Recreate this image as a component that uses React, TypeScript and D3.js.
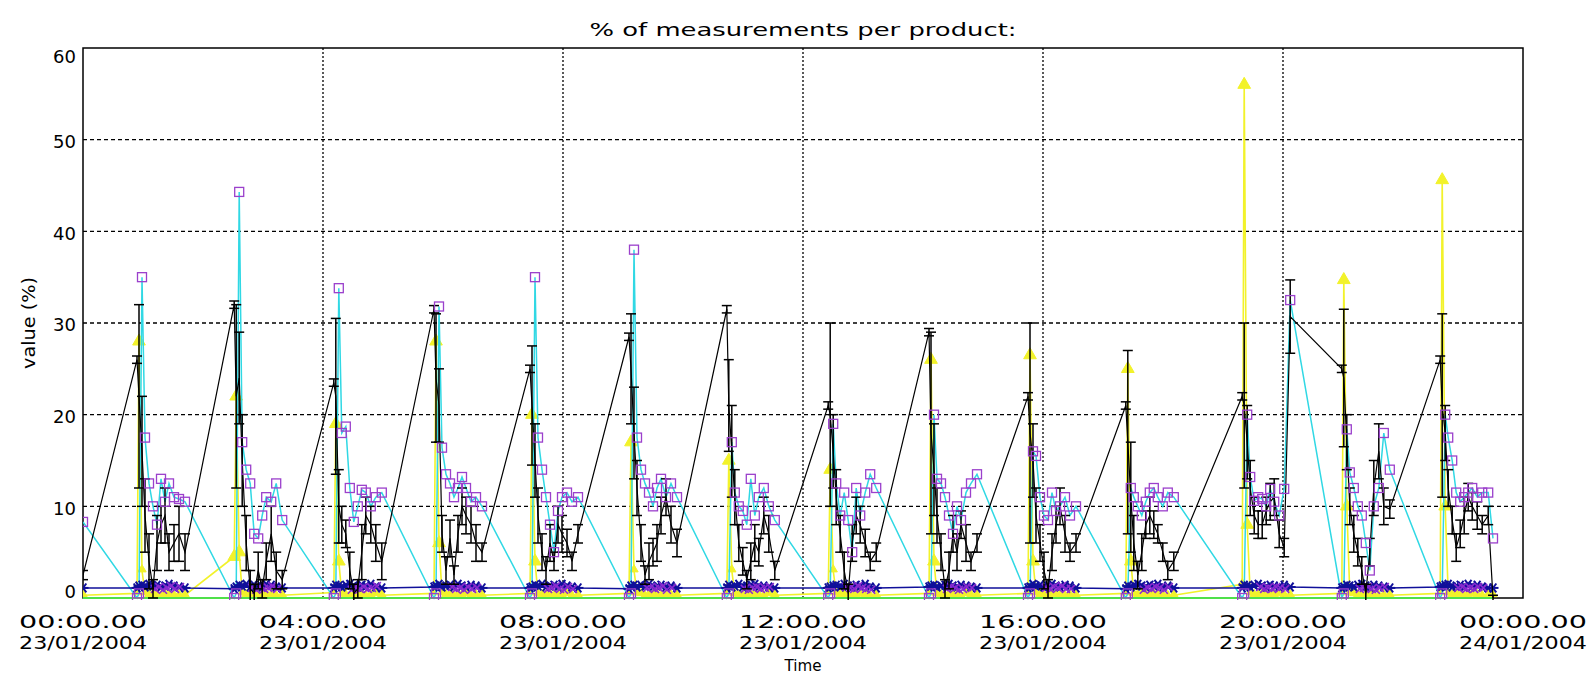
import React from "react"
import * as d3 from "d3"

const WIDTH = 1594
const HEIGHT = 679

// hours after 23/01/2004 00:00 of the first sample of each burst
const BURST_START_HOURS = [
  0.9, 2.52, 4.18, 5.85, 7.45, 9.1, 10.73, 12.42, 14.1, 15.75, 17.38, 19.32,
  20.98, 22.62,
]
// minutes after burst start of every sample in a burst
const SAMPLE_OFFSETS_MIN = [0, 2, 5, 8, 12, 16, 20, 24, 28, 32, 37, 42, 48]

const BLACK_VALUES = [
  [26, 22, 16, 9, 4, 1, 6, 8, 9, 5, 6, 7, 5],
  [32, 22, 24, 15, 6, 1, 0.5, 3, 1, 4, 7, 3, 2],
  [23.5, 22, 10, 8, 7, 3, 0.5, 1, 5, 9, 8, 6, 4],
  [31.5, 24, 21, 7, 3, 6.5, 2.5, 7, 10, 9, 8, 6, 5],
  [25, 21, 15, 9, 5, 3, 6, 4, 8, 7, 6, 4, 7],
  [28.5, 25, 18, 12, 6, 2.5, 4, 5, 6, 9, 11, 8, 6],
  [31.5, 21, 16, 11, 6, 4, 2, 4, 6, 5, 9, 7, 3],
  [21, 20, 16, 11, 7, 3, 0.5, 6, 9, 8, 6, 4, 5],
  [29, 18, 14, 9, 5, 1, 3, 7, 5, 8, 6, 4, 6],
  [22, 18, 15, 9, 6, 3, 1, 5, 8, 10, 7, 5, 6],
  [21, 17, 11, 6, 2.5, 5, 8, 9, 8, 7, 5, 3, 4],
  [22, 21, 17, 12, 9, 8, 8, 9.5, 10.5, 11, 7, 5.5, 30.7],
  [25, 24, 17, 10, 7, 5, 3, 0.5, 5, 12, 16, 10, 9.7],
  [26, 21, 18, 12, 8.5, 5.5, 7, 9, 11, 10, 9, 8, 9],
]
const BLACK_ERRORS = [
  [0.4, 10, 6, 4, 3, 1, 3, 2, 3, 2, 2, 3, 2],
  [0.4, 10, 5, 5, 3, 2, 1, 2, 1, 2, 3, 2, 1],
  [0.4, 8.5, 4, 2, 1.5, 2, 1, 1, 3, 2, 2, 2, 2],
  [0.4, 7, 4, 2, 1.5, 2, 1, 2, 2, 2, 2, 2, 1],
  [0.4, 6.5, 4, 3, 2, 1.5, 2, 1, 2, 2, 1.5, 1, 1],
  [0.4, 6, 5, 3, 2, 1, 2, 1.5, 2, 2, 2, 2, 1.5],
  [0.4, 5, 5, 3, 2, 1.5, 1, 2, 2, 1.5, 2, 2, 1],
  [0.4, 10, 4, 3, 2, 2, 1, 2, 2, 2, 1.5, 1, 1],
  [0.4, 11, 5, 3, 2, 1, 2, 2, 2, 1.5, 2, 1, 1],
  [0.4, 12, 4, 3, 2, 2, 1, 2, 2, 2, 2, 1, 1],
  [0.4, 10, 6, 3, 1.5, 2, 1.5, 2, 1.5, 1, 1, 1, 1],
  [0.4, 9, 4, 3, 2, 1.5, 1.5, 1.5, 2, 2, 1.5, 1, 4],
  [0.4, 7.5, 3, 2, 2, 1.5, 1.5, 1, 1.5, 3, 3, 2, 1],
  [0.4, 10, 3, 2, 1.5, 1.5, 1.5, 2, 1.5, 1.5, 1.5, 1, 1],
]
const CYAN_VALUES = [
  [0, 0.5, 35, 17.5, 12.5, 10, 8, 13, 10.5, 12.5, 11, 10.8, 10.5],
  [0, 0.5, 44.3, 17, 14, 12.5, 7, 6.5, 9, 11, 10.5, 12.5, 8.5],
  [0, 0.5, 33.8, 18, 18.7, 12, 8.3, 10, 11.8, 11.5, 10, 11, 11.5],
  [0, 0.5, 31.8, 16.4, 13.5, 12.5, 11, 12, 13.2, 12, 10.5, 11, 10],
  [0, 0.5, 35, 17.5, 14, 11, 8, 5, 9.5, 11, 11.5, 10.5, 11],
  [0, 0.5, 38, 17.5, 14, 12.5, 11.5, 10, 12, 13, 11, 12.5, 11],
  [0, 0.5, 17, 11.5, 10, 9.5, 8, 13, 9, 11, 12, 10, 8.5],
  [0, 0.5, 19, 12.5, 9, 11.5, 8.5, 5, 12, 9, 11.5, 13.5, 12],
  [0, 0.5, 20, 13, 12.5, 11, 9, 7, 10, 8.5, 11.5, 12.5, 13.5],
  [0, 0.5, 16, 15.5, 11, 9, 8.5, 11.5, 9.5, 10, 11, 9, 10],
  [0, 0.5, 12, 11, 10, 9, 10.5, 11.5, 12, 11, 10, 11.5, 11],
  [0, 0.5, 20, 13.2, 10.6, 11, 10.8, 10, 11.9, 10.5, 9, 11.9, 32.5],
  [0, 0.5, 18.4, 13.7, 12, 10, 9, 6, 3, 10, 12, 18, 14],
  [0, 0.5, 20, 17.5, 15, 11.5, 10.5, 11, 11.5, 12, 11, 11.5, 11.5],
]
const YELLOW_VALUES = [
  [0.5, 28, 3, 0.5, 0.3, 0.4, 0.3, 0.2, 0.4, 0.3, 0.2, 0.3, 0.3],
  [4.5, 22, 5, 0.5, 0.3, 0.3, 0.4, 0.2, 0.3, 0.4, 0.3, 0.2, 0.3],
  [0.6, 19, 4, 0.4, 0.3, 0.2, 0.3, 0.4, 0.3, 0.2, 0.3, 0.4, 0.3],
  [0.5, 28, 6, 0.5, 0.3, 0.4, 0.2, 0.3, 0.3, 0.4, 0.2, 0.3, 0.3],
  [0.5, 20, 4, 0.4, 0.3, 0.3, 0.4, 0.2, 0.3, 0.3, 0.4, 0.2, 0.3],
  [0.5, 17, 3, 0.5, 0.4, 0.2, 0.3, 0.3, 0.4, 0.2, 0.3, 0.3, 0.3],
  [0.5, 15, 3, 0.4, 0.3, 0.3, 0.2, 0.4, 0.3, 0.3, 0.2, 0.4, 0.3],
  [0.5, 14, 3, 0.5, 0.3, 0.4, 0.3, 0.2, 0.3, 0.4, 0.3, 0.2, 0.3],
  [0.5, 26, 4, 0.4, 0.3, 0.2, 0.4, 0.3, 0.3, 0.2, 0.4, 0.3, 0.3],
  [0.5, 26.5, 4, 0.5, 0.3, 0.3, 0.2, 0.4, 0.3, 0.3, 0.2, 0.3, 0.3],
  [0.5, 25, 4, 0.4, 0.3, 0.4, 0.3, 0.2, 0.4, 0.3, 0.3, 0.2, 0.3],
  [1.5, 56, 8, 0.5, 0.3, 0.3, 0.4, 0.3, 0.2, 0.3, 0.4, 0.3, 0.3],
  [0.5, 34.7, 10, 0.5, 0.4, 0.3, 0.2, 0.3, 0.4, 0.3, 0.2, 0.3, 0.3],
  [0.5, 45.6, 10, 0.5, 0.3, 0.4, 0.3, 0.2, 0.3, 0.4, 0.3, 0.2, 0.3],
]
const NAVY_VALUES = [
  [1.1, 1.3, 1.4, 1.2, 1.5, 1.3, 1.4, 1.2, 1.3, 1.5, 1.3, 1.2, 1.1],
  [1.0, 1.2, 1.4, 1.3, 1.5, 1.2, 1.4, 1.3, 1.2, 1.5, 1.4, 1.2, 1.1],
  [1.1, 1.4, 1.3, 1.2, 1.4, 1.5, 1.3, 1.2, 1.4, 1.3, 1.5, 1.2, 1.1],
  [1.2, 1.3, 1.5, 1.2, 1.3, 1.4, 1.2, 1.5, 1.3, 1.2, 1.4, 1.3, 1.1],
  [1.1, 1.2, 1.4, 1.3, 1.5, 1.2, 1.3, 1.4, 1.2, 1.5, 1.3, 1.2, 1.1],
  [1.0, 1.3, 1.4, 1.2, 1.4, 1.3, 1.5, 1.2, 1.3, 1.4, 1.2, 1.3, 1.1],
  [1.1, 1.4, 1.2, 1.3, 1.5, 1.2, 1.3, 1.4, 1.5, 1.2, 1.3, 1.2, 1.1],
  [1.1, 1.2, 1.3, 1.4, 1.2, 1.5, 1.3, 1.2, 1.4, 1.3, 1.5, 1.2, 1.1],
  [1.2, 1.3, 1.4, 1.2, 1.3, 1.4, 1.5, 1.3, 1.2, 1.4, 1.3, 1.2, 1.1],
  [1.1, 1.2, 1.5, 1.3, 1.4, 1.2, 1.3, 1.5, 1.3, 1.2, 1.4, 1.3, 1.1],
  [1.0, 1.3, 1.2, 1.4, 1.5, 1.3, 1.2, 1.4, 1.3, 1.5, 1.2, 1.3, 1.1],
  [1.1, 1.4, 1.3, 1.2, 1.4, 1.5, 1.3, 1.2, 1.4, 1.3, 1.2, 1.4, 1.2],
  [1.1, 1.2, 1.4, 1.3, 1.2, 1.4, 1.5, 1.3, 1.2, 1.4, 1.3, 1.2, 1.1],
  [1.2, 1.3, 1.4, 1.5, 1.2, 1.3, 1.4, 1.2, 1.5, 1.3, 1.4, 1.2, 1.1],
]
// purple crosses in the middle of each burst
const PURPLE_OFFSETS_MIN = [18, 22, 26, 30, 34, 38, 43]
const PURPLE_VALUES = [
  [1.0, 1.2, 0.9, 1.1, 1.3, 1.0, 1.2],
  [1.1, 0.9, 1.2, 1.0, 1.1, 1.3, 1.0],
  [0.9, 1.1, 1.0, 1.2, 1.0, 1.1, 1.3],
  [1.2, 1.0, 1.1, 0.9, 1.2, 1.0, 1.1],
  [1.0, 1.1, 1.3, 1.0, 0.9, 1.2, 1.0],
  [1.1, 1.2, 1.0, 1.1, 1.3, 0.9, 1.1],
  [1.0, 0.9, 1.1, 1.2, 1.0, 1.1, 1.2],
  [1.2, 1.1, 1.0, 1.3, 1.1, 1.0, 0.9],
  [1.0, 1.2, 1.1, 0.9, 1.0, 1.2, 1.1],
  [1.1, 1.0, 1.2, 1.1, 1.3, 1.0, 1.0],
  [0.9, 1.1, 1.0, 1.2, 1.1, 0.9, 1.2],
  [1.2, 1.0, 1.1, 1.0, 1.2, 1.1, 1.0],
  [1.0, 1.1, 1.2, 1.0, 0.9, 1.1, 1.2],
  [1.1, 1.2, 1.0, 1.1, 1.0, 1.2, 1.1],
]

// single samples before the first burst and after the last one
const EDGE_HOURS = [0, 23.5]
const EDGE_BLACK = [2.5, 0]
const EDGE_BLACK_ERR = [0.5, 0.3]
const EDGE_CYAN = [8.3, 6.5]
const EDGE_YELLOW = [0.3, 0.3]
const EDGE_NAVY = [1.1, 1.1]
const GREEN_VALUES = [0, 0]

const Y_TICKS = [0, 10, 20, 30, 40, 50, 60]

const FONT = "DejaVu Sans, Liberation Sans, sans-serif"

const margin = { left: 83, right: 71, top: 48, bottom: 81 }
const plotW = WIDTH - margin.left - margin.right
const plotH = HEIGHT - margin.top - margin.bottom

const day0 = new Date(2004, 0, 23)
const toDate = (h: number) => new Date(day0.getTime() + h * 3600e3)

type P = { t: Date; v: number; e?: number }

const buildSeries = (
  edge: number[],
  bursts: number[][],
  offsets: number[] = SAMPLE_OFFSETS_MIN,
  errEdge?: number[],
  errBursts?: number[][],
): P[] => {
  const pts: P[] = [{ t: toDate(EDGE_HOURS[0]), v: edge[0], e: errEdge?.[0] }]
  bursts.forEach((vals, b) =>
    vals.forEach((v, i) =>
      pts.push({
        t: toDate(BURST_START_HOURS[b] + offsets[i] / 60),
        v,
        e: errBursts?.[b][i],
      }),
    ),
  )
  pts.push({ t: toDate(EDGE_HOURS[1]), v: edge[1], e: errEdge?.[1] })
  return pts
}

const black = buildSeries(EDGE_BLACK, BLACK_VALUES, SAMPLE_OFFSETS_MIN, EDGE_BLACK_ERR, BLACK_ERRORS)
const cyan = buildSeries(EDGE_CYAN, CYAN_VALUES)
const yellow = buildSeries(EDGE_YELLOW, YELLOW_VALUES)
const navy = buildSeries(EDGE_NAVY, NAVY_VALUES)
const purple: P[] = PURPLE_VALUES.flatMap((vals, b) =>
  vals.map((v, i) => ({ t: toDate(BURST_START_HOURS[b] + PURPLE_OFFSETS_MIN[i] / 60), v })),
)
const green: P[] = EDGE_HOURS.map((h, i) => ({ t: toDate(h), v: GREEN_VALUES[i] }))

const App = () => {
  const x = d3.scaleTime().domain([day0, toDate(24)]).range([0, plotW])
  const y = d3.scaleLinear().domain([0, 60]).range([plotH, 0])
  const labelY = (v: number) => Math.min(Math.max(y(v) + 2, 9), plotH - 6)

  const line = d3
    .line<P>()
    .x((d) => x(d.t))
    .y((d) => y(d.v))

  const xTicks = x.ticks(d3.timeHour.every(4)!)
  const fmtTime = d3.timeFormat("%H:%M.%S")
  const fmtDate = d3.timeFormat("%d/%m/%Y")

  const cyanColor = "#30d8e4"
  const yellowColor = "#f2f22a"
  const squareColor = "#9b40cc"
  const navyColor = "#10109a"
  const purpleColor = "#8a2ad0"
  const greenColor = "#4fe04a"

  const tri = d3.symbol().type(d3.symbolTriangle).size(70)()
  const triSmall = d3.symbol().type(d3.symbolTriangle).size(30)()

  return (
    <svg
      width={WIDTH}
      height={HEIGHT}
      style={{ display: "block", position: "absolute", left: 0, top: 0, background: "#fff" }}
    >
      <defs>
        <clipPath id="plot">
          <rect x={0} y={-2} width={plotW} height={plotH + 4} />
        </clipPath>
      </defs>
      <text
        x={margin.left + plotW / 2}
        y={36}
        textAnchor="middle"
        fontFamily={FONT}
        fontSize={17}
        textLength={427}
        lengthAdjust="spacingAndGlyphs"
      >
        % of measurements per product:
      </text>
      <g transform={`translate(${margin.left},${margin.top})`}>
        {/* grid */}
        {Y_TICKS.filter((v) => v > 0 && v < 60).map((v) => (
          <line
            key={`gy${v}`}
            x1={0}
            x2={plotW}
            y1={y(v)}
            y2={y(v)}
            stroke="#000"
            strokeWidth={1.3}
            strokeDasharray="4,3"
          />
        ))}
        {xTicks.slice(1, -1).map((t) => (
          <line
            key={`gx${t.getTime()}`}
            x1={x(t)}
            x2={x(t)}
            y1={0}
            y2={plotH}
            stroke="#000"
            strokeWidth={1.3}
            strokeDasharray="2,2"
          />
        ))}
        <rect x={0} y={0} width={plotW} height={plotH} fill="none" stroke="#000" strokeWidth={1.5} />

        <g clipPath="url(#plot)">
          {/* yellow */}
          <path d={line(yellow) ?? ""} fill="none" stroke={yellowColor} strokeWidth={1.6} />
          {yellow.map((d, i) => (
            <path
              key={`yt${i}`}
              d={(d.v > 3 ? tri : triSmall) ?? ""}
              transform={`translate(${x(d.t)},${y(d.v) + (d.v > 3 ? 0 : -1)})`}
              fill={yellowColor}
              stroke={yellowColor}
            />
          ))}
          {/* cyan */}
          <path d={line(cyan) ?? ""} fill="none" stroke={cyanColor} strokeWidth={1.5} />
          {/* navy */}
          <path d={line(navy) ?? ""} fill="none" stroke={navyColor} strokeWidth={1.5} />
          {navy.map((d, i) => {
            const cx = x(d.t)
            const cy = y(d.v)
            const r = 5.5
            return (
              <g key={`na${i}`} stroke={navyColor} strokeWidth={2}>
                <line x1={cx - r} x2={cx + r} y1={cy} y2={cy} />
                <line x1={cx - r * 0.6} x2={cx + r * 0.6} y1={cy - r * 0.8} y2={cy + r * 0.8} />
                <line x1={cx - r * 0.6} x2={cx + r * 0.6} y1={cy + r * 0.8} y2={cy - r * 0.8} />
              </g>
            )
          })}
          {purple.map((d, i) => {
            const cx = x(d.t)
            const cy = y(d.v)
            const r = 4
            return (
              <g key={`pu${i}`} stroke={purpleColor} strokeWidth={1.6}>
                <line x1={cx - r} x2={cx + r} y1={cy - r} y2={cy + r} />
                <line x1={cx - r} x2={cx + r} y1={cy + r} y2={cy - r} />
              </g>
            )
          })}
          {/* green */}
          <path d={line(green) ?? ""} fill="none" stroke={greenColor} strokeWidth={2.2} />
          {/* black with error bars */}
          <path d={line(black) ?? ""} fill="none" stroke="#000" strokeWidth={1.2} />
          {black.map((d, i) => {
            const cx = x(d.t)
            const e = d.e ?? 0
            const y1 = y(d.v + e)
            const y2 = y(Math.max(d.v - e, -0.3))
            return (
              <g key={`eb${i}`} stroke="#000" strokeWidth={1.5}>
                <line x1={cx} x2={cx} y1={y1} y2={y2} />
                <line x1={cx - 5} x2={cx + 5} y1={y1} y2={y1} />
                <line x1={cx - 5} x2={cx + 5} y1={y2} y2={y2} />
              </g>
            )
          })}
          {/* purple squares on cyan */}
          {cyan.map((d, i) => (
            <rect
              key={`sq${i}`}
              x={x(d.t) - 4.5}
              y={y(d.v) - 4.5}
              width={9}
              height={9}
              fill="none"
              stroke={squareColor}
              strokeWidth={1.3}
            />
          ))}
        </g>

        {/* y tick labels */}
        {Y_TICKS.map((v) => (
          <text
            key={`yl${v}`}
            x={-7}
            y={labelY(v)}
            dy="0.36em"
            textAnchor="end"
            fontFamily={FONT}
            fontSize={18}
          >
            {v}
          </text>
        ))}
        {/* x tick labels */}
        {xTicks.map((t) => (
          <g key={`xl${t.getTime()}`} fontFamily={FONT} fontSize={17} textAnchor="middle">
            <text x={x(t)} y={628 - margin.top} textLength={128} lengthAdjust="spacingAndGlyphs">
              {fmtTime(t)}
            </text>
            <text x={x(t)} y={649 - margin.top} textLength={128} lengthAdjust="spacingAndGlyphs">
              {fmtDate(t)}
            </text>
          </g>
        ))}
      </g>
      <text
        x={margin.left + plotW / 2}
        y={671}
        textAnchor="middle"
        fontFamily={FONT}
        fontSize={16}
        textLength={37}
        lengthAdjust="spacingAndGlyphs"
      >
        Time
      </text>
      <text
        transform={`translate(35,${margin.top + plotH / 2}) rotate(-90)`}
        textAnchor="middle"
        fontFamily={FONT}
        fontSize={17}
        textLength={92}
        lengthAdjust="spacingAndGlyphs"
      >
        value (%)
      </text>
    </svg>
  )
}

export default App
